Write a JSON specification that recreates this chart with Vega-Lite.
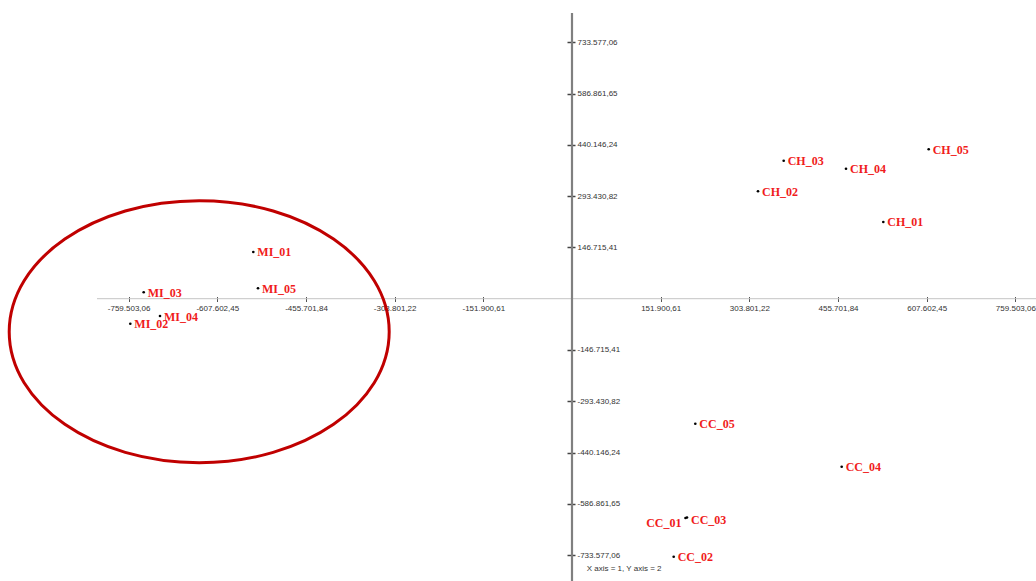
{
  "$schema": "https://vega.github.io/schema/vega-lite/v6.json",
  "width": 1036,
  "height": 581,
  "autosize": {"type": "none"},
  "padding": 0,
  "background": "white",
  "config": {
    "view": {"stroke": null},
    "locale": {"number": {"decimal": ",", "thousands": ".", "grouping": [3], "currency": ["", ""], "minus": "-"}}
  },
  "datasets": {
    "scores": [
      {"label": "MI_01", "x": -545933, "y": 133637},
      {"label": "MI_02", "x": -756632, "y": -71540},
      {"label": "MI_03", "x": -733678, "y": 18314},
      {"label": "MI_04", "x": -705756, "y": -49506},
      {"label": "MI_05", "x": -537882, "y": 29761},
      {"label": "CH_01", "x": 533257, "y": 219485},
      {"label": "CH_02", "x": 318618, "y": 307336},
      {"label": "CH_03", "x": 362642, "y": 394901},
      {"label": "CH_04", "x": 469362, "y": 372008},
      {"label": "CH_05", "x": 611027, "y": 427523},
      {"label": "CC_01", "x": 194426, "y": -627549},
      {"label": "CC_02", "x": 174212, "y": -738293},
      {"label": "CC_03", "x": 196995, "y": -626118},
      {"label": "CC_04", "x": 461996, "y": -480749},
      {"label": "CC_05", "x": 211213, "y": -357700}
    ],
    "ellipse": [{"group": "MI", "x": -638606, "y": -94433}],
    "xline": [{"x": -813675, "x2": 794832, "y": 0}],
    "yline": [{"x": 0, "y": 817555, "y2": -807830}],
    "note": [{"text": "X axis = 1, Y axis = 2", "x": 25181, "y": -772632}]
  },
  "encoding": {
    "x": {
      "field": "x", "type": "quantitative",
      "scale": {"domain": [-979836, 794832], "nice": false, "zero": false},
      "axis": {
        "orient": "bottom", "offset": -284.5, "title": null,
        "values": [-759503.06, -607602.448, -455701.836, -303801.224, -151900.612, 151900.612, 303801.224, 455701.836, 607602.448, 759503.06],
        "format": ",.2f", "domain": false, "grid": false,
        "tickSize": 5, "tickColor": "#555555", "tickWidth": 1,
        "labelFont": "Liberation Sans", "labelFontSize": 8, "labelColor": "#333333",
        "labelPadding": 3, "labelFlush": false, "labelOverlap": false
      }
    },
    "y": {
      "field": "y", "type": "quantitative",
      "scale": {"domain": [-807830, 854760], "nice": false, "zero": false},
      "axis": {
        "orient": "right", "offset": -469, "title": null,
        "values": [-733577.06, -586861.648, -440146.236, -293430.824, -146715.412, 146715.412, 293430.824, 440146.236, 586861.648, 733577.06],
        "format": ",.2f", "domain": false, "grid": false,
        "tickSize": 8, "tickColor": "#444444", "tickWidth": 1.5,
        "labelFont": "Liberation Sans", "labelFontSize": 8, "labelColor": "#333333",
        "labelPadding": 2, "labelFlush": false, "labelOverlap": false
      }
    }
  },
  "layer": [
    {
      "data": {"name": "xline"},
      "mark": {"type": "rule", "color": "#c4c4c4", "strokeWidth": 1},
      "encoding": {"x2": {"field": "x2"}}
    },
    {
      "data": {"name": "yline"},
      "mark": {"type": "rule", "color": "#808080", "strokeWidth": 2.2},
      "encoding": {"y2": {"field": "y2"}}
    },
    {
      "data": {"name": "ellipse"},
      "mark": {
        "type": "point",
        "shape": "M -1 0 A 1 0.6895 0 1 1 1 0 A 1 0.6895 0 1 1 -1 0 Z",
        "size": 144400, "filled": false, "color": "#c00000", "strokeWidth": 3, "opacity": 1
      }
    },
    {
      "data": {"name": "scores"},
      "mark": {"type": "circle", "color": "black", "size": 7, "opacity": 1}
    },
    {
      "data": {"name": "scores"},
      "transform": [{"filter": "datum.label !== 'CC_01' && datum.label !== 'CC_03'"}],
      "mark": {"type": "text", "align": "left", "baseline": "middle", "dx": 4, "dy": 0.5, "font": "Liberation Serif", "fontSize": 12, "fontWeight": "bold", "color": "#f01c1c"},
      "encoding": {"text": {"field": "label"}}
    },
    {
      "data": {"name": "scores"},
      "transform": [{"filter": "datum.label === 'CC_03'"}],
      "mark": {"type": "text", "align": "left", "baseline": "middle", "dx": 4, "dy": 3, "font": "Liberation Serif", "fontSize": 12, "fontWeight": "bold", "color": "#f01c1c"},
      "encoding": {"text": {"field": "label"}}
    },
    {
      "data": {"name": "scores"},
      "transform": [{"filter": "datum.label === 'CC_01'"}],
      "mark": {"type": "text", "align": "right", "baseline": "middle", "dx": -4, "dy": 5, "font": "Liberation Serif", "fontSize": 12, "fontWeight": "bold", "color": "#f01c1c"},
      "encoding": {"text": {"field": "label"}}
    },
    {
      "data": {"name": "note"},
      "mark": {"type": "text", "align": "left", "baseline": "middle", "font": "Liberation Sans", "fontSize": 8, "color": "#333333"},
      "encoding": {"text": {"field": "text"}}
    }
  ]
}
